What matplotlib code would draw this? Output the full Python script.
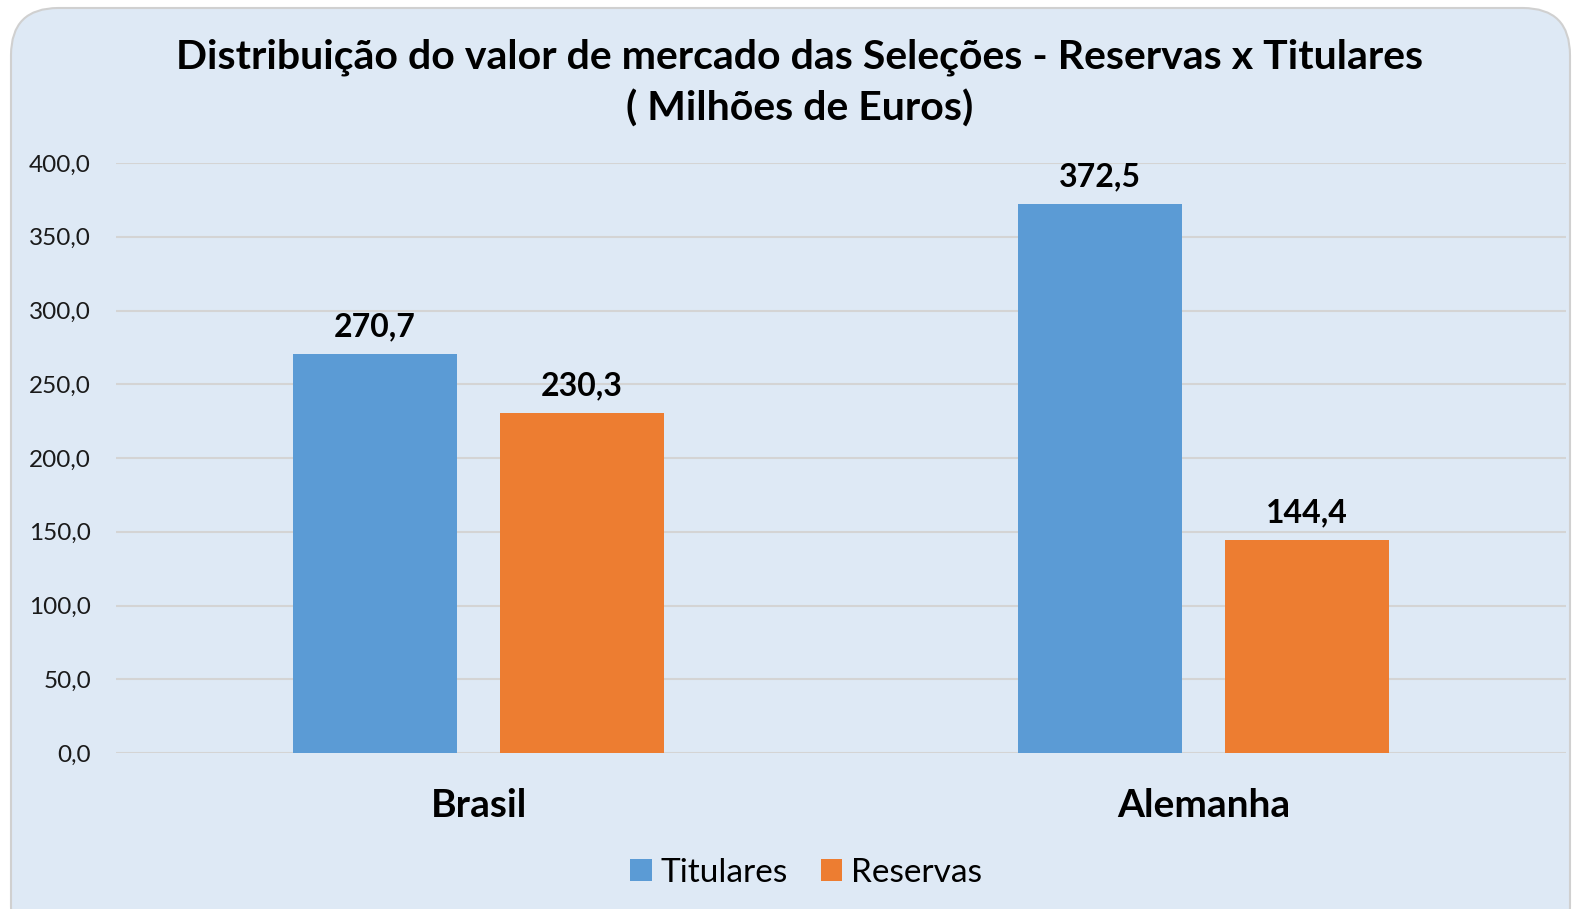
import matplotlib
matplotlib.use("Agg")
import matplotlib.pyplot as plt
from matplotlib.patches import FancyBboxPatch
import numpy as np

categories = ["Brasil", "Alemanha"]
titulares = [270.7, 372.5]
reservas = [230.3, 144.4]
yticks = [0, 50, 100, 150, 200, 250, 300, 350, 400]

plt.rcParams['font.family'] = ['Lato', 'DejaVu Sans']

W, H = 1575, 909
fig = plt.figure(figsize=(W/100, H/100), dpi=100)
fig.patch.set_facecolor('white')

card = FancyBboxPatch((11/W, -0.05), (1570-11)/W, (909-8)/H + 0.05,
                      boxstyle="round,pad=0,rounding_size=0.03",
                      transform=fig.transFigure, facecolor='#DEE9F5',
                      edgecolor='#D0D0D0', linewidth=1.5, zorder=-5,
                      mutation_aspect=W/H)
fig.patches.append(card)

ax = fig.add_axes([116/W, 1-753/H, (1566-116)/W, (753-163)/H], zorder=2)
ax.set_facecolor('none')
x = np.arange(len(categories))
bw = 0.226
off = 0.143
b1 = ax.bar(x - off, titulares, bw, color='#5B9BD5', label='Titulares', zorder=3)
b2 = ax.bar(x + off, reservas, bw, color='#ED7D31', label='Reservas', zorder=3)

def fmt(v):
    return f"{v:.1f}".replace('.', ',')

for bars, vals in ((b1, titulares), (b2, reservas)):
    for r, v in zip(bars, vals):
        ax.annotate(fmt(v), (r.get_x() + r.get_width()/2, v), xytext=(0, 9),
                    textcoords='offset points', ha='center', va='bottom',
                    fontsize=23, fontweight='bold', color='black')

ax.set_xlim(-0.5, 1.5)
ax.set_ylim(0, 400)
ax.set_yticks(yticks)
ax.set_yticklabels([fmt(v) for v in yticks], fontsize=17.5, color='#1a1a1a')
ax.set_xticks(x)
ax.set_xticklabels(categories, fontsize=28, fontweight='bold')
ax.tick_params(axis='both', length=0)
ax.tick_params(axis='y', pad=18)
ax.tick_params(axis='x', pad=25)
ax.grid(axis='y', color='#D4D4D4', linewidth=1.5, zorder=0)
ax.set_axisbelow(True)
for s in ax.spines.values():
    s.set_visible(False)

fig.text(800/W, 1-57/H, "Distribuição do valor de mercado das Seleções - Reservas x Titulares",
         ha='center', va='center', fontsize=29.5, fontweight='bold')
fig.text(800/W, 1-109/H, "( Milhões de Euros)",
         ha='center', va='center', fontsize=29.5, fontweight='bold')

leg = fig.legend(handles=[b1, b2], loc='center', bbox_to_anchor=(806/W, 1-873/H),
                 ncol=2, frameon=False, fontsize=24, handlelength=0.65, handleheight=0.65,
                 handletextpad=0.25, columnspacing=1.0)

fig.savefig('out.png', dpi=100, facecolor='white')
